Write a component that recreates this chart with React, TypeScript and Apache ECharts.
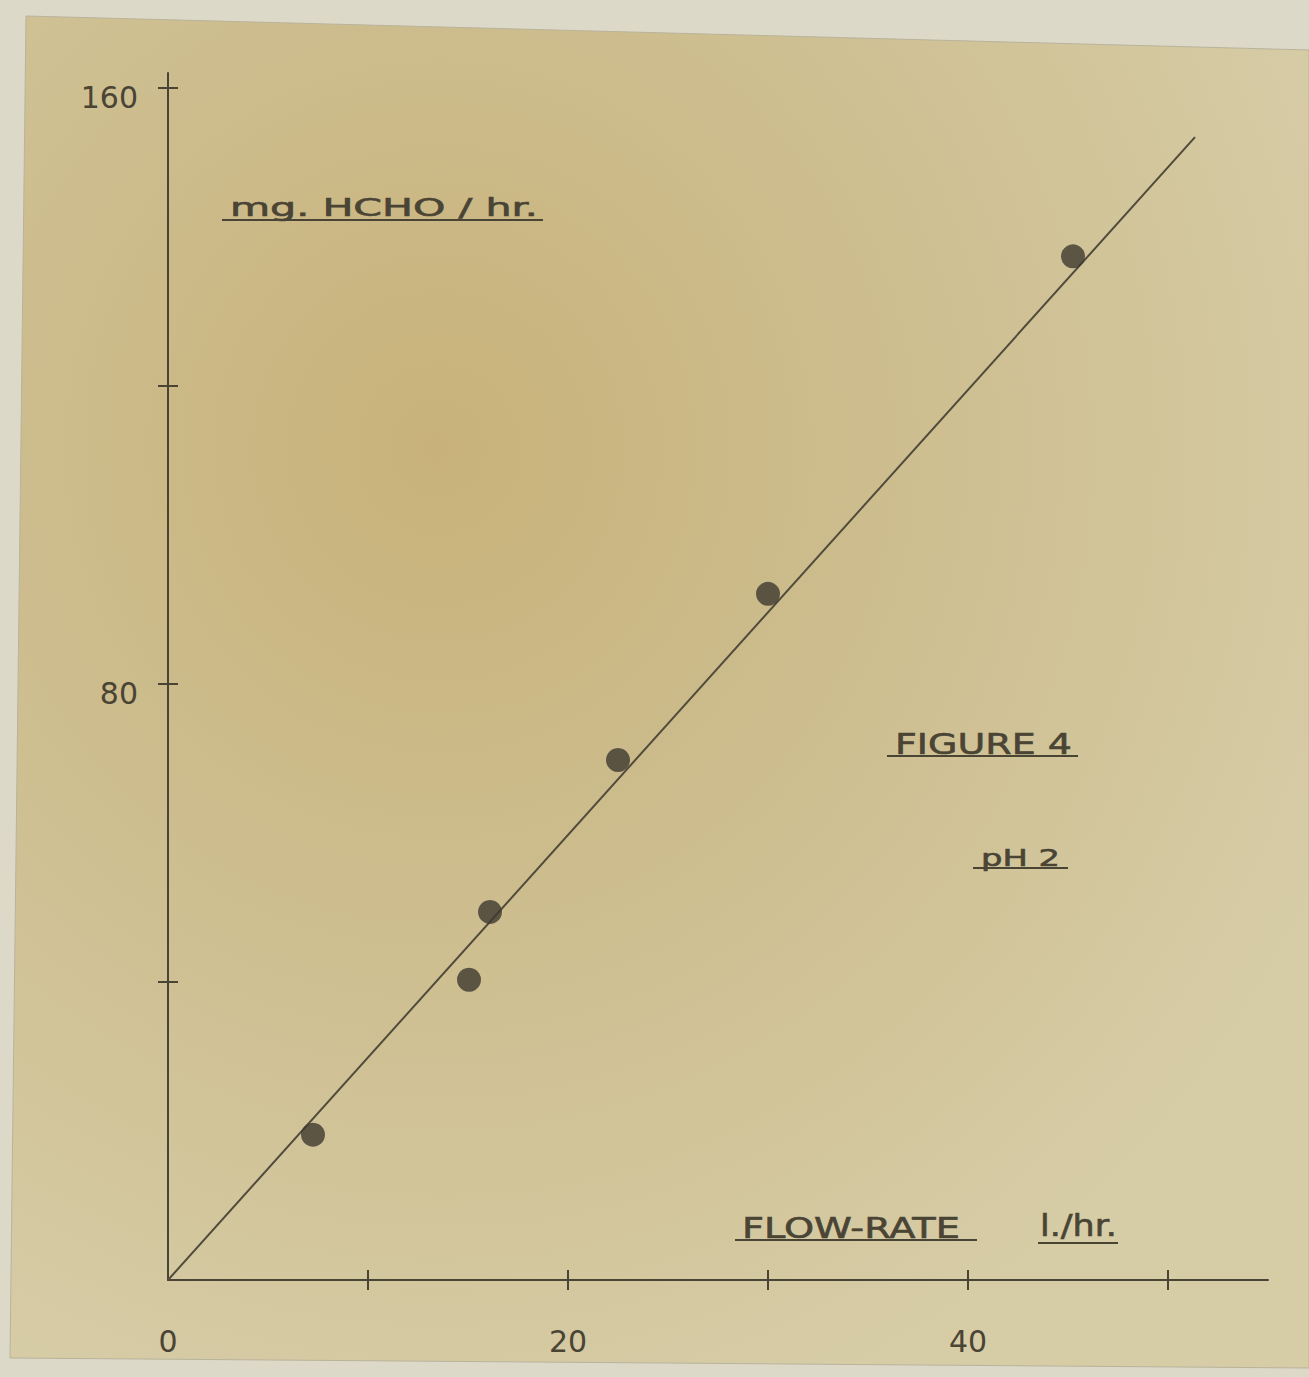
import React, { useEffect, useRef } from "react";
import * as echarts from "echarts";

// ---- data ----
const flowRate = [7.25, 15.05, 16.1, 22.5, 30.0, 45.25]; // l./hr.
const hchoRate = [19.5, 40.3, 49.4, 69.8, 92.1, 137.4]; // mg. HCHO / hr.
const fitLineX = [0, 51.35];
const fitLineY = [0, 153.4];
const xTickLabels = [0, 20, 40];
const yTickLabels = [80, 160];
const xTickValues = [10, 20, 30, 40, 50];
const yTickValues = [40, 80, 120, 160];
const annotationTexts = ["mg. HCHO / hr.", "FIGURE 4", "pH 2", "FLOW-RATE", "l./hr."];

// ---- layout ----
const W = 1309;
const H = 1377;
const X0 = 168;
const PXX = 20;
const Y0 = 1280;
const PXY = 7.45;
const X_MAX = 55;
const Y_MAX = 162;
const INK = "#4a4435";
const FONT = "DejaVu Sans";

const annotationLayout = [
  { left: 230, right: 538, cy: 208, size: 24, ul: [222, 543, 220] },
  { left: 895, right: 1072, cy: 744, size: 29, ul: [887, 1078, 756] },
  { left: 981, right: 1060, cy: 858, size: 23, ul: [973, 1068, 868] },
  { left: 742, right: 960, cy: 1228, size: 28, ul: [735, 977, 1240] },
  { left: 1040, right: 1117, cy: 1226, size: 30, ul: [1038, 1118, 1243] },
];

function measure(text: string, size: number): number {
  const ctx = document.createElement("canvas").getContext("2d");
  if (!ctx) return text.length * size * 0.6;
  ctx.font = `${size}px "${FONT}"`;
  return ctx.measureText(text).width;
}

export default function App() {
  const ref = useRef<HTMLDivElement>(null);

  useEffect(() => {
    if (!ref.current) return;
    const chart = echarts.init(ref.current, undefined, { renderer: "svg" });

    const graphics: any[] = [
      {
        type: "polygon",
        z: -10,
        silent: true,
        shape: {
          points: [
            [26, 16],
            [W, 50],
            [W, 1368],
            [10, 1358],
          ],
        },
        style: {
          fill: new echarts.graphic.RadialGradient(0.33, 0.32, 0.75, [
            { offset: 0, color: "#c8b27a" },
            { offset: 0.45, color: "#cdbd8e" },
            { offset: 1, color: "#d6cca6" },
          ]),
          stroke: "#b9b39c",
          lineWidth: 1,
        },
      },
    ];

    annotationTexts.forEach((t, i) => {
      const l = annotationLayout[i];
      const w = measure(t, l.size);
      const sx = (l.right - l.left) / w;
      graphics.push({
        type: "text",
        x: l.left,
        y: l.cy,
        scaleX: sx,
        z: 5,
        style: {
          text: t,
          fill: INK,
          font: `${l.size}px "${FONT}"`,
          fontFamily: FONT,
          fontSize: l.size,
          align: "left",
          verticalAlign: "middle",
          stroke: INK,
          lineWidth: 0.6,
        },
      });
      graphics.push({
        type: "line",
        z: 5,
        shape: { x1: l.ul[0], y1: l.ul[2], x2: l.ul[1], y2: l.ul[2] },
        style: { stroke: INK, lineWidth: 2 },
      });
    });

    const labelStyle = { color: INK, fontFamily: FONT, fontSize: 30 };

    const option: any = {
      animation: false,
      backgroundColor: "#dcd9c8",
      graphic: graphics,
      grid: [
        { left: X0, right: W - X0 - X_MAX * PXX, top: Y0 - Y_MAX * PXY, bottom: H - Y0 },
        {
          left: X0 + xTickValues[0] * PXX,
          width: (xTickValues[xTickValues.length - 1] - xTickValues[0]) * PXX,
          top: Y0 - Y_MAX * PXY,
          bottom: H - Y0,
        },
        {
          left: X0,
          width: 100,
          top: Y0 - yTickValues[yTickValues.length - 1] * PXY,
          bottom: H - (Y0 - yTickValues[0] * PXY),
        },
      ],
      xAxis: [
        {
          type: "value",
          gridIndex: 0,
          min: 0,
          max: X_MAX,
          interval: 10,
          splitLine: { show: false },
          axisTick: { show: false },
          axisLine: { show: true, onZero: false, lineStyle: { color: INK, width: 2 } },
          axisLabel: {
            ...labelStyle,
            margin: 46,
            formatter: (v: number) => (xTickLabels.includes(v) ? String(v) : ""),
          },
        },
        {
          type: "value",
          gridIndex: 1,
          position: "bottom",
          min: xTickValues[0],
          max: xTickValues[xTickValues.length - 1],
          interval: 10,
          offset: 10,
          splitLine: { show: false },
          axisLine: { show: false, onZero: false },
          axisLabel: { show: false },
          axisTick: { show: true, inside: true, length: 20, lineStyle: { color: INK, width: 2 } },
        },
        {
          type: "value",
          gridIndex: 2,
          min: 0,
          max: 10,
          show: false,
        },
      ],
      yAxis: [
        {
          type: "value",
          gridIndex: 0,
          min: 0,
          max: Y_MAX,
          interval: 40,
          splitLine: { show: false },
          axisTick: { show: false },
          axisLine: { show: true, onZero: false, lineStyle: { color: INK, width: 2 } },
          axisLabel: {
            ...labelStyle,
            margin: 30,
            verticalAlign: "top",
            padding: [-6, 0, 0, 0],
            formatter: (v: number) => (yTickLabels.includes(v) ? String(v) : ""),
          },
        },
        {
          type: "value",
          gridIndex: 1,
          min: 0,
          max: 10,
          show: false,
        },
        {
          type: "value",
          gridIndex: 2,
          position: "left",
          min: yTickValues[0],
          max: yTickValues[yTickValues.length - 1],
          interval: 40,
          offset: 10,
          splitLine: { show: false },
          axisLine: { show: false, onZero: false },
          axisLabel: { show: false },
          axisTick: { show: true, inside: true, length: 20, lineStyle: { color: INK, width: 2 } },
        },
      ],
      series: [
        {
          type: "line",
          xAxisIndex: 0,
          yAxisIndex: 0,
          data: fitLineX.map((x, i) => [x, fitLineY[i]]),
          showSymbol: false,
          lineStyle: { color: "#514b3c", width: 2 },
          silent: true,
          z: 3,
        },
        {
          type: "scatter",
          xAxisIndex: 0,
          yAxisIndex: 0,
          data: flowRate.map((x, i) => [x, hchoRate[i]]),
          symbol: "circle",
          symbolSize: 24,
          itemStyle: { color: "#3f3a2f" },
          z: 4,
        },
      ],
    };

    chart.setOption(option);
    return () => chart.dispose();
  }, []);

  return (
    <div
      ref={ref}
      style={{ position: "absolute", left: 0, top: 0, width: W, height: H }}
    />
  );
}
